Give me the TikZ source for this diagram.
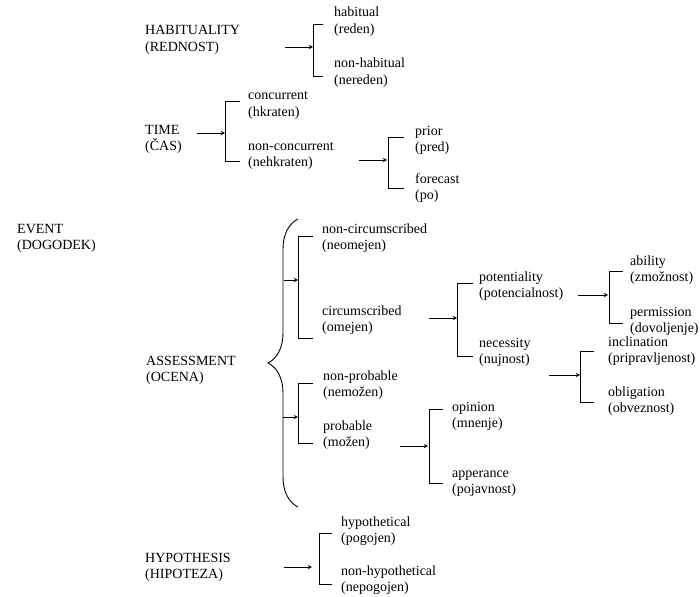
\documentclass[tikz,border=0pt]{standalone}
\usepackage{fontspec}
\setmainfont{Liberation Serif}
\usetikzlibrary{arrows,decorations.pathreplacing}

\begin{document}
\begin{tikzpicture}[x=1pt,y=1pt]
                    \tikzstyle{every node}+=[inner sep=0pt]
                    \tikzstyle{lbl}=[anchor=base west, yshift=-16.5pt, align=left, font=\fontsize{14}{16.5}\selectfont]
                    \tikzstyle{arr}=[->, >=stealth, line width=0.9pt]
                    \tikzstyle{brk}=[line width=0.9pt]
                    \useasboundingbox (0,0) rectangle (700,-596);
                    % categories
                    \node [lbl] (habit) at (145,-35) {HABITUALITY\\(REDNOST)};
                    \node [lbl] (time) at (145,-134) {TIME\\(ČAS)};
                    \node [lbl] (event) at (17,-233) {EVENT\\(DOGODEK)};
                    \node [lbl] (assess) at (146,-365) {ASSESSMENT\\(OCENA)};
                    \node [lbl] (hypo) at (145,-562) {HYPOTHESIS\\(HIPOTEZA)};
                    % values
                    \node [lbl] (habitual) at (334,-17) {habitual\\(reden)};
                    \node [lbl] (nonhabitual) at (334,-68) {non-habitual\\(nereden)};
                    \node [lbl] (concurrent) at (248,-100) {concurrent\\(hkraten)};
                    \node [lbl] (nonconcurrent) at (248,-150) {non-concurrent\\(nehkraten)};
                    \node [lbl] (prior) at (415,-135) {prior\\(pred)};
                    \node [lbl] (forecast) at (415,-183) {forecast\\(po)};
                    \node [lbl] (noncirc) at (322,-233) {non-circumscribed\\(neomejen)};
                    \node [lbl] (circ) at (322,-315) {circumscribed\\(omejen)};
                    \node [lbl] (potent) at (479,-281) {potentiality\\(potencialnost)};
                    \node [lbl] (necess) at (479,-347) {necessity\\(nujnost)};
                    \node [lbl] (ability) at (630,-265) {ability\\(zmožnost)};
                    \node [lbl] (permission) at (630,-316) {permission\\(dovoljenje)};
                    \node [lbl] (inclination) at (608,-346) {inclination\\(pripravljenost)};
                    \node [lbl] (obligation) at (608,-396) {obligation\\(obveznost)};
                    \node [lbl] (nonprob) at (323,-380) {non-probable\\(nemožen)};
                    \node [lbl] (prob) at (323,-430) {probable\\(možen)};
                    \node [lbl] (opinion) at (452,-411) {opinion\\(mnenje)};
                    \node [lbl] (appear) at (452,-477) {apperance\\(pojavnost)};
                    \node [lbl] (hypothetical) at (341,-526) {hypothetical\\(pogojen)};
                    \node [lbl] (nonhypo) at (341,-575) {non-hypothetical\\(nepogojen)};
                    % bracket ends and arrow tips
                    \coordinate (habT) at (323,-24);
                    \coordinate (habB) at (323,-76);
                    \coordinate (habA) at (313,-47);
                    \coordinate (timT) at (240,-101);
                    \coordinate (timB) at (240,-161);
                    \coordinate (timA) at (225,-133);
                    \coordinate (priT) at (404,-137);
                    \coordinate (priB) at (404,-188);
                    \coordinate (priA) at (387,-160);
                    \coordinate (cirT) at (313,-236);
                    \coordinate (cirB) at (313,-338);
                    \coordinate (cirA) at (298,-280);
                    \coordinate (potT) at (473,-283);
                    \coordinate (potB) at (473,-356);
                    \coordinate (potA) at (457,-318);
                    \coordinate (ablT) at (623,-271);
                    \coordinate (ablB) at (623,-323);
                    \coordinate (ablA) at (608,-295);
                    \coordinate (incT) at (594,-351);
                    \coordinate (incB) at (594,-402);
                    \coordinate (incA) at (580,-375);
                    \coordinate (proT) at (313,-383);
                    \coordinate (proB) at (313,-443);
                    \coordinate (proA) at (298,-417);
                    \coordinate (opiT) at (443,-409);
                    \coordinate (opiB) at (443,-483);
                    \coordinate (opiA) at (428,-446);
                    \coordinate (hypT) at (332,-533);
                    \coordinate (hypB) at (332,-584);
                    \coordinate (hypA) at (312,-567);
                    % brackets
                    \draw [brk] (habT) -- ++(-10,0) |- (habB);
                    \draw [brk] (timT) -- ++(-15,0) |- (timB);
                    \draw [brk] (priT) -- ++(-16,0) |- (priB);
                    \draw [brk] (cirT) -- ++(-15,0) |- (cirB);
                    \draw [brk] (potT) -- ++(-16,0) |- (potB);
                    \draw [brk] (ablT) -- ++(-14,0) |- (ablB);
                    \draw [brk] (incT) -- ++(-14,0) |- (incB);
                    \draw [brk] (proT) -- ++(-15,0) |- (proB);
                    \draw [brk] (opiT) -- ++(-14,0) |- (opiB);
                    \draw [brk] (hypT) -- ++(-13,0) |- (hypB);
                    % arrows
                    \draw [arr] ([xshift=-28pt]habA) -- (habA);
                    \draw [arr] ([xshift=-28pt]timA) -- (timA);
                    \draw [arr] ([xshift=-28pt]priA) -- (priA);
                    \draw [arr] ([xshift=-14pt]cirA) -- (cirA);
                    \draw [arr] ([xshift=-28pt]potA) -- (potA);
                    \draw [arr] ([xshift=-30pt]ablA) -- (ablA);
                    \draw [arr] ([xshift=-31pt]incA) -- (incA);
                    \draw [arr] ([xshift=-15pt]proA) -- (proA);
                    \draw [arr] ([xshift=-28pt]opiA) -- (opiA);
                    \draw [arr] ([xshift=-28pt]hypA) -- (hypA);
                    % brace of assessment
                    \draw [brk, decorate, decoration={brace, amplitude=30pt}] (298,-507) -- (298,-219);
\end{tikzpicture}
\end{document}
